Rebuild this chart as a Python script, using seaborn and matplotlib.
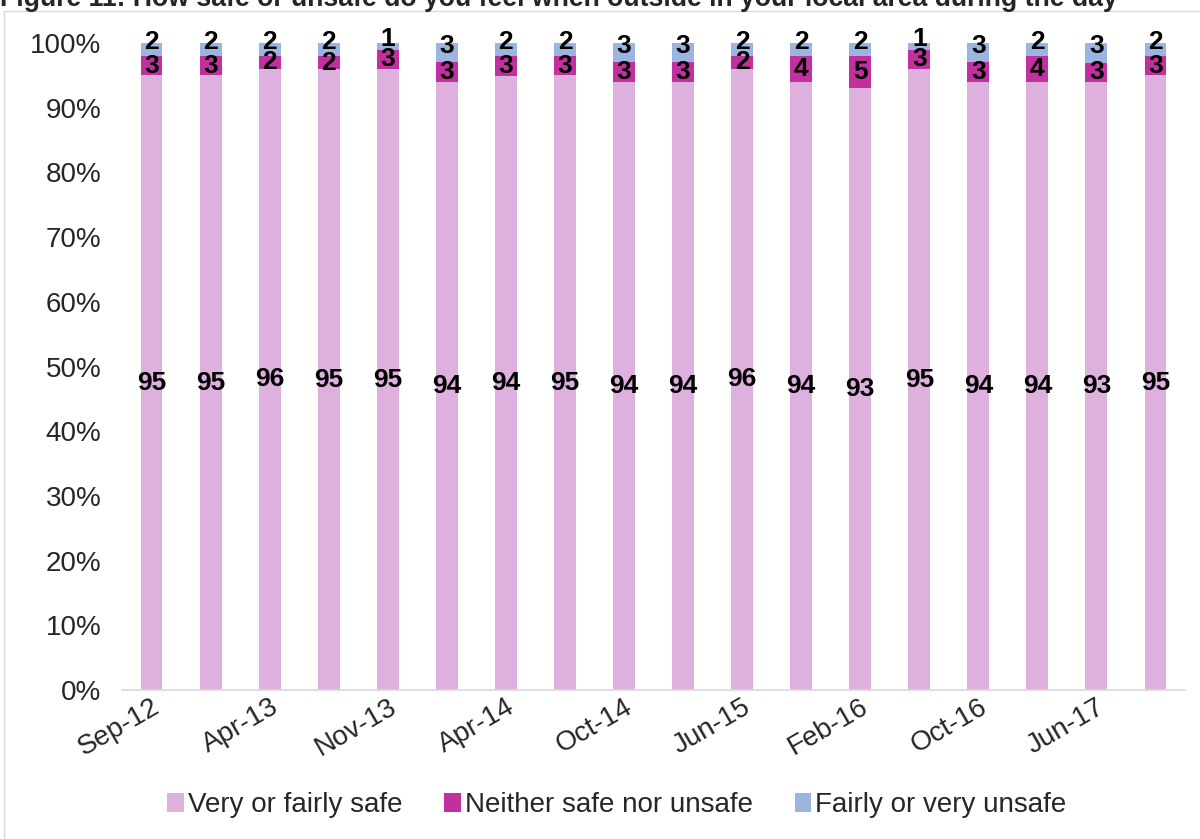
import numpy as np
import pandas as pd
import matplotlib
matplotlib.use("Agg")
import matplotlib.pyplot as plt
import seaborn as sns
from matplotlib.patches import Rectangle, Patch

sns.set_style("white")
plt.rcParams['font.family'] = ['Liberation Sans', 'DejaVu Sans']

# data (percent)
periods = ["Sep-12", "Jan-13", "Apr-13", "Jul-13", "Nov-13", "Jan-14", "Apr-14", "Jul-14",
           "Oct-14", "Jan-15", "Jun-15", "Oct-15", "Feb-16", "Jun-16", "Oct-16", "Feb-17",
           "Jun-17", "Oct-17"]
tick_labels = ["Sep-12", "Apr-13", "Nov-13", "Apr-14", "Oct-14", "Jun-15", "Feb-16", "Oct-16", "Jun-17"]
safe = [95, 95, 96, 95, 95, 94, 94, 95, 94, 94, 96, 94, 93, 95, 94, 94, 93, 95]
neither = [3, 3, 2, 2, 3, 3, 3, 3, 3, 3, 2, 4, 5, 3, 3, 4, 3, 3]
unsafe = [2, 2, 2, 2, 1, 3, 2, 2, 3, 3, 2, 2, 2, 1, 3, 2, 3, 2]

series = ["Very or fairly safe", "Neither safe nor unsafe", "Fairly or very unsafe"]
colors = ["#DDB0DD", "#C2309F", "#9BB4E0"]

df = pd.DataFrame({"period": periods, "safe": safe, "neither": neither, "unsafe": unsafe})
total = df[["safe", "neither", "unsafe"]].sum(axis=1)
df["s1"] = df["safe"] / total
df["s2"] = (df["safe"] + df["neither"]) / total
df["s3"] = 1.0

fig = plt.figure(figsize=(12, 8.39), dpi=100)
ax = fig.add_axes([0.1017, 0.1776, 0.8858, 0.7711])

# 100% stacked bars drawn as overlapping cumulative bars
for col, c in zip(["s3", "s2", "s1"], colors[::-1]):
    sns.barplot(data=df, x="period", y=col, order=periods, color=c, width=0.37,
                saturation=1, edgecolor="none", ax=ax)

# segment labels (top one nudged up a little, like the original)
for i in range(len(periods)):
    bottoms = [0, df["s1"][i], df["s2"][i]]
    tops = [df["s1"][i], df["s2"][i], 1.0]
    vals = [safe[i], neither[i], unsafe[i]]
    for k, (b, t, v) in enumerate(zip(bottoms, tops, vals)):
        y = (b + t) / 2 + (0.011 if k == 2 else 0)
        ax.text(i, y, str(v), ha="center", va="center", fontsize=19,
                fontweight="bold", color="black")

ax.set_ylim(0, 1)
ax.set_xlim(-0.5, len(periods) - 0.5)
ax.set_yticks(np.arange(0, 1.01, 0.1))
ax.set_yticklabels([f"{int(round(v * 100))}%" for v in np.arange(0, 1.01, 0.1)], fontsize=20)
ax.set_xticks(range(0, len(periods), 2))
ax.set_xticklabels(tick_labels, rotation=30, ha="right", rotation_mode="anchor", fontsize=20)
ax.set_xticks(np.arange(-0.5, len(periods), 1), minor=True)
ax.tick_params(axis="x", which="major", length=0, pad=3)
ax.tick_params(axis="x", which="minor", length=8, color="#d9d9d9", width=1)
ax.tick_params(axis="y", length=0, pad=15)
ax.set_xlabel("")
ax.set_ylabel("")
for s in ["top", "right", "left"]:
    ax.spines[s].set_visible(False)
ax.spines["bottom"].set_color("#d9d9d9")
ax.spines["bottom"].set_linewidth(1.2)

handles = [Patch(facecolor=c, edgecolor="none") for c in colors]
fig.legend(handles, series, loc="center", bbox_to_anchor=(0.514, 0.0405), ncol=3,
           frameon=False, fontsize=20, handlelength=0.6, handleheight=0.7,
           handletextpad=0.15, columnspacing=1.5)

fig.text(0.0, 1 - 6 / 839, "Figure 11: How safe or unsafe do you feel when outside in your local area during the day",
         fontsize=19.2, fontweight="bold", ha="left", va="baseline")
fig.patches.append(Rectangle((4 / 1200, 0), 1.0, 1 - 11 / 839, transform=fig.transFigure,
                             fill=False, edgecolor="#d9d9d9", linewidth=1))

fig.savefig("out.png", dpi=100)
